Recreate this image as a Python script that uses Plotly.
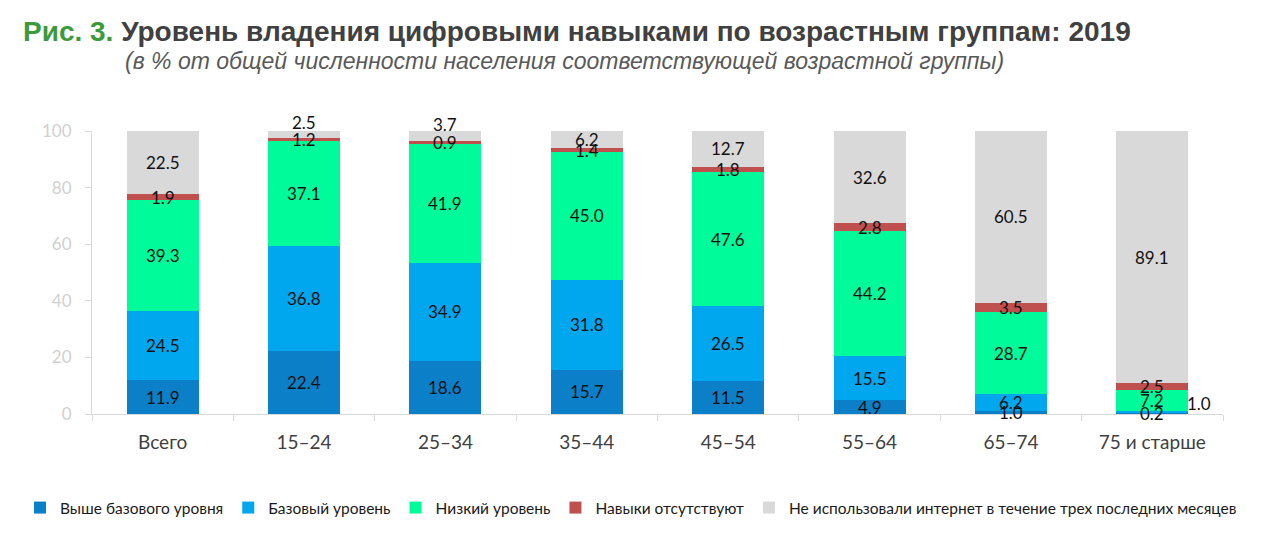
import plotly.graph_objects as go

categories = ["Всего", "15–24", "25–34", "35–44", "45–54", "55–64", "65–74", "75 и старше"]
series_names = [
    "Выше базового уровня",
    "Базовый уровень",
    "Низкий уровень",
    "Навыки отсутствуют",
    "Не использовали интернет в течение трех последних месяцев",
]
above_basic = [11.9, 22.4, 18.6, 15.7, 11.5, 4.9, 1.0, 0.2]
basic = [24.5, 36.8, 34.9, 31.8, 26.5, 15.5, 6.2, 1.0]
low = [39.3, 37.1, 41.9, 45.0, 47.6, 44.2, 28.7, 7.2]
no_skills = [1.9, 1.2, 0.9, 1.4, 1.8, 2.8, 3.5, 2.5]
no_internet = [22.5, 2.5, 3.7, 6.2, 12.7, 32.6, 60.5, 89.1]
y_ticks = [0, 20, 40, 60, 80, 100]

series_values = [above_basic, basic, low, no_skills, no_internet]
colors = ["#0B7FC7", "#00A6EE", "#00FB9A", "#C0504D", "#D9D9D9"]

# label nudges (pixels) for a few crowded labels
label_shift = {
    (1, 4): (0, 12),
    (2, 4): (0, 12),
    (7, 1): (47, 9),
}

LABEL_FONT = "Lato, 'Open Sans', sans-serif"
W, H = 1270, 545
L, R, T, B = 92, 47, 131, 131
PW, PH = W - L - R, H - T - B


def px_to_paper(px, py):
    return (px - L) / PW, (H - B - py) / PH


fig = go.Figure()
for name, vals, col in zip(series_names, series_values, colors):
    fig.add_trace(go.Bar(
        x=categories, y=vals, name=name,
        marker=dict(color=col, line=dict(width=0)),
        hoverinfo="x+y+name",
    ))

annotations = []
for ci, cat in enumerate(categories):
    base = 0.0
    for si, vals in enumerate(series_values):
        v = vals[ci]
        mid = base + v / 2
        base += v
        dx, dy = label_shift.get((ci, si), (0, 0))
        annotations.append(dict(
            x=cat, y=mid, xref="x", yref="y", text=f"{v:.1f}",
            showarrow=False, xshift=dx, yshift=dy,
            font=dict(family=LABEL_FONT, size=17, color="#111111"),
        ))

tx, ty = px_to_paper(21, 32)
sx, sy = px_to_paper(123, 61)
annotations += [
    dict(
        xref="paper", yref="paper", x=tx, y=ty,
        xanchor="left", yanchor="middle", showarrow=False,
        text="<b><span style='color:#3C9A3C'>Рис. 3.</span> Уровень владения цифровыми навыками по возрастным группам: 2019</b>",
        font=dict(family="'Liberation Sans', Arial, sans-serif", size=28, color="#404040"),
    ),
    dict(
        xref="paper", yref="paper", x=sx, y=sy,
        xanchor="left", yanchor="middle", showarrow=False,
        text="<i>(в % от общей численности населения соответствующей возрастной группы)</i>",
        font=dict(family="'Liberation Sans', Arial, sans-serif", size=23, color="#595959"),
    ),
]

lx, ly = px_to_paper(20, 508)

fig.update_layout(
    width=W, height=H,
    paper_bgcolor="white", plot_bgcolor="white",
    barmode="stack", bargap=0.49,
    margin=dict(l=L, r=R, t=T, b=B, autoexpand=False),
    font=dict(family=LABEL_FONT),
    showlegend=True,
    legend=dict(
        orientation="h", x=lx, xanchor="left", xref="paper",
        y=ly, yanchor="middle", yref="paper",
        font=dict(family=LABEL_FONT, size=15.5, color="#1A1A1A"),
        tracegroupgap=0, traceorder="normal",
        itemclick=False, itemdoubleclick=False,
    ),
    xaxis=dict(
        type="category", showgrid=False, showline=True, linecolor="#D9D9D9", linewidth=1,
        ticks="outside", tickson="boundaries", ticklen=6, tickcolor="#D9D9D9",
        ticklabelstandoff=11,
        tickfont=dict(family=LABEL_FONT, size=19, color="#404040"),
        fixedrange=True,
    ),
    yaxis=dict(
        range=[0, 100], tickvals=y_ticks, showgrid=False, zeroline=False,
        showline=True, linecolor="#D9D9D9", linewidth=1,
        ticks="outside", ticklen=6, tickcolor="#D9D9D9",
        ticklabelstandoff=10,
        tickfont=dict(family=LABEL_FONT, size=17, color="#D0D0D0"),
        fixedrange=True,
    ),
    annotations=annotations,
)

fig.write_html(
    "out.html",
    config={"displayModeBar": False},
    post_script="document.body.style.margin='0px';document.body.style.overflow='hidden';",
)
